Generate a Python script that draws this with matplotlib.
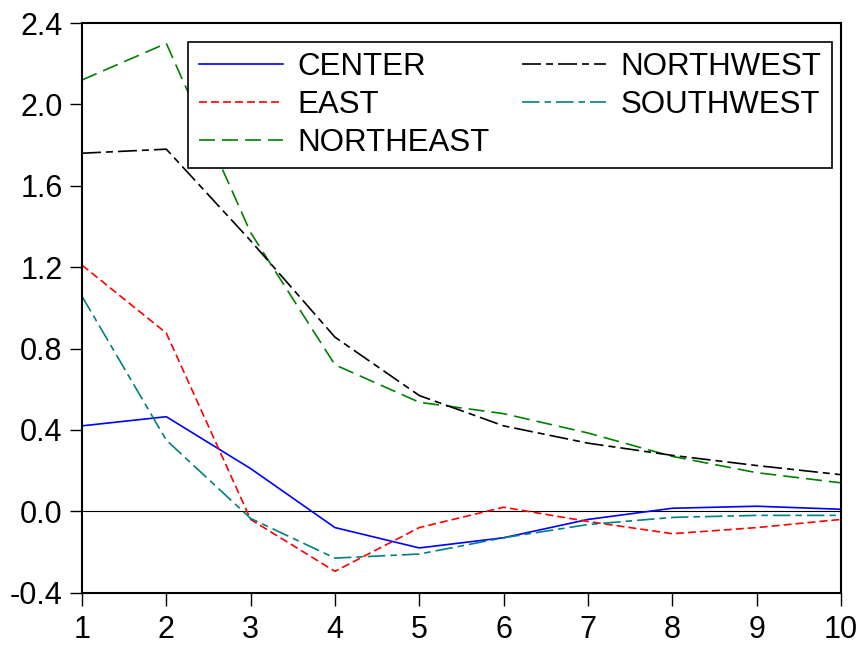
import matplotlib
matplotlib.use("Agg")
import matplotlib.pyplot as plt

plt.rcParams['font.family'] = ['Liberation Sans', 'DejaVu Sans']

periods = [1, 2, 3, 4, 5, 6, 7, 8, 9, 10]

center    = [0.42, 0.465, 0.21, -0.08, -0.18, -0.13, -0.04, 0.015, 0.025, 0.01]
east      = [1.21, 0.876, -0.04, -0.295, -0.08, 0.02, -0.05, -0.11, -0.08, -0.04]
northeast = [2.12, 2.30, 1.37, 0.72, 0.536, 0.48, 0.385, 0.27, 0.19, 0.14]
northwest = [1.76, 1.78, 1.33, 0.856, 0.569, 0.42, 0.335, 0.275, 0.225, 0.18]
southwest = [1.057, 0.35, -0.035, -0.23, -0.21, -0.13, -0.065, -0.03, -0.02, -0.02]

yticks = [-0.4, 0.0, 0.4, 0.8, 1.2, 1.6, 2.0, 2.4]

fig = plt.figure(figsize=(8.61, 6.45), dpi=100)
ax = fig.add_axes([0.0952, 0.0811, 0.8815, 0.8832])

lw = 1.2
ax.axhline(0, color='black', linewidth=0.8, zorder=1)
ax.plot(periods, center, color='#0000FF', linestyle='-', linewidth=lw, label='CENTER')
ax.plot(periods, east, color='#FF0000', linestyle=(0, (4.8, 2.4)), linewidth=lw, label='EAST')
ax.plot(periods, northeast, color='#008000', linestyle=(0, (9.6, 4.2)), linewidth=lw, label='NORTHEAST')
ax.plot(periods, northwest, color='black', linestyle=(0, (11.4, 3.0, 4.2, 3.0)), linewidth=lw, label='NORTHWEST')
ax.plot(periods, southwest, color='#008080', linestyle=(0, (10.5, 3.0, 3.9, 3.0)), linewidth=lw, label='SOUTHWEST')

ax.set_xlim(1, 10)
ax.set_ylim(-0.4, 2.4)
ax.set_xticks(periods)
ax.set_yticks(yticks)
ax.set_yticklabels([f"{v:.1f}" for v in yticks])
ax.tick_params(axis='both', direction='out', length=9, width=1.0, labelsize=22)
ax.tick_params(axis='y', pad=5)
ax.tick_params(axis='x', pad=7)
for s in ax.spines.values():
    s.set_linewidth(1.5)

leg = ax.legend(ncol=2, loc='upper right', bbox_to_anchor=(0.988, 0.967),
                fontsize=22.5, frameon=True, fancybox=False, framealpha=1,
                edgecolor='black', handlelength=2.69, handletextpad=0.46,
                columnspacing=1.05, labelspacing=0.25, borderpad=0.33,
                borderaxespad=0)
leg.get_frame().set_linewidth(1.2)

fig.savefig('out.png', dpi=100)
